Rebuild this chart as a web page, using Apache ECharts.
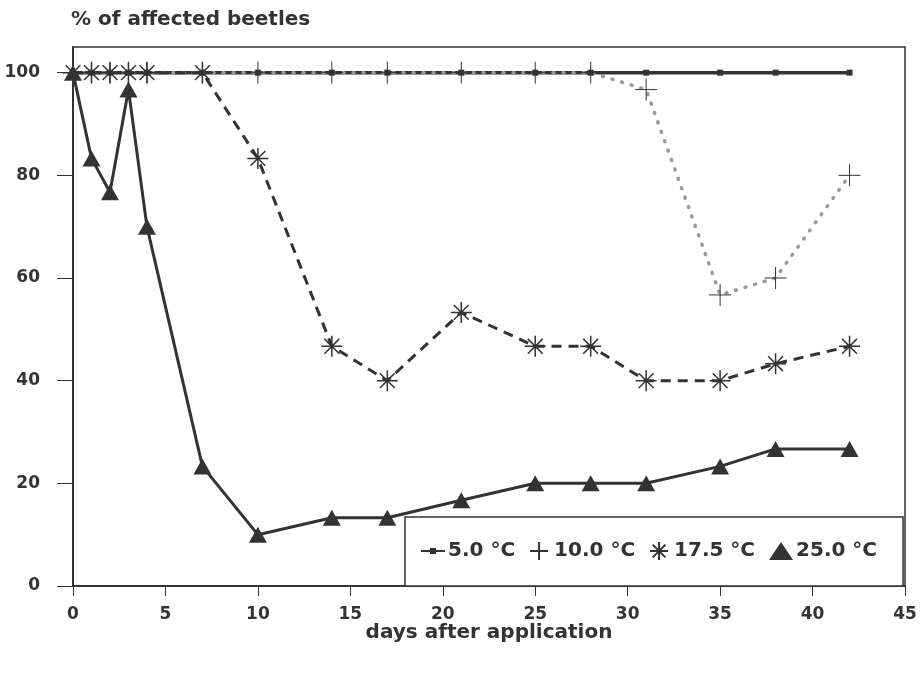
<!DOCTYPE html>
<html>
<head>
<meta charset="utf-8">
<script src="https://cdn.jsdelivr.net/npm/echarts@6/dist/echarts.min.js"></script>
<style>html,body{margin:0;padding:0;background:#fff}#c{width:923px;height:673px}</style>
</head>
<body>
<div id="c"></div>
<script>
var days = [0, 1, 2, 3, 4, 7, 10, 14, 17, 21, 25, 28, 31, 35, 38, 42];
var t5 = [100, 100, 100, 100, 100, 100, 100, 100, 100, 100, 100, 100, 100, 100, 100, 100];
var t10 = [100, 100, 100, 100, 100, 100, 100, 100, 100, 100, 100, 100, 96.7, 56.7, 60, 80];
var t17 = [100, 100, 100, 100, 100, 100, 83.3, 46.7, 40, 53.3, 46.7, 46.7, 40, 40, 43.3, 46.7];
var t25 = [100, 83.3, 76.7, 96.7, 70, 23.3, 10, 13.3, 13.3, 16.7, 20, 20, 20, 23.3, 26.7, 26.7];
var seriesNames = ['5.0 °C', '10.0 °C', '17.5 °C', '25.0 °C'];
var xTicks = [0, 5, 10, 15, 20, 25, 30, 35, 40, 45];
var yTicks = [0, 20, 40, 60, 80, 100];

function pairs(arr) { return days.map(function (d, i) { return [d, arr[i]]; }); }

var PLUS = 'path://M0,-10L0,10M-10,0L10,0';
var STAR = 'path://M0,-10L0,10M-10,0L10,0M-7.07,-7.07L7.07,7.07M-7.07,7.07L7.07,-7.07';
var LINESQ = 'path://M0,9L24,9L24,11L0,11Z M9,7L15,7L15,13L9,13Z';
var INK = '#333';
var FONT = '"DejaVu Sans", Verdana, sans-serif';

var chart = echarts.init(document.getElementById('c'));
chart.setOption({
  animation: false,
  backgroundColor: '#fff',
  title: {
    text: '% of affected beetles', left: 66, top: 5,
    textStyle: { fontFamily: FONT, fontSize: 20, fontWeight: 'bold', color: INK }
  },
  grid: { left: 73, right: 18, top: 47, bottom: 87, show: true, borderColor: INK, borderWidth: 1.5, backgroundColor: 'transparent' },
  xAxis: {
    type: 'value', min: 0, max: 45, interval: 5,
    name: 'days after application', nameLocation: 'middle', nameGap: 37, nameMoveOverlap: false,
    nameTextStyle: { fontFamily: FONT, fontSize: 20, fontWeight: 'bold', color: INK },
    axisLine: { show: true, lineStyle: { color: INK, width: 2 } },
    axisTick: { show: true, inside: false, length: 10, lineStyle: { color: INK, width: 1 } },
    axisLabel: {
      margin: 20, fontFamily: FONT, fontSize: 17, fontWeight: 'bold', color: INK,
      formatter: function (v) { return xTicks.indexOf(v) >= 0 ? String(v) : ''; }
    },
    splitLine: { show: false }
  },
  yAxis: {
    type: 'value', min: 0, max: 105, interval: 20,
    axisLine: { show: true, lineStyle: { color: INK, width: 2 } },
    axisTick: { show: true, inside: false, length: 16, lineStyle: { color: INK, width: 1 } },
    axisLabel: {
      margin: 33, fontFamily: FONT, fontSize: 17, fontWeight: 'bold', color: INK, showMaxLabel: false,
      formatter: function (v) { return yTicks.indexOf(v) >= 0 ? String(v) : ''; }
    },
    splitLine: { show: false }
  },
  legend: {
    left: 405, top: 517, orient: 'horizontal',
    padding: [24, 26, 25, 16], itemGap: 14, itemWidth: 24, itemHeight: 18,
    backgroundColor: '#fff', borderColor: INK, borderWidth: 1.5, borderRadius: 0,
    textStyle: { fontFamily: FONT, fontSize: 20, fontWeight: 'bold', color: INK, padding: [0, 0, 0, -2] },
    data: [
      { name: seriesNames[0], icon: LINESQ },
      { name: seriesNames[1], icon: PLUS },
      { name: seriesNames[2], icon: STAR },
      { name: seriesNames[3], icon: 'triangle' }
    ]
  },
  series: [
    {
      name: seriesNames[0], type: 'line', data: pairs(t5),
      symbol: 'rect', symbolSize: 6,
      lineStyle: { color: INK, width: 3.5 },
      itemStyle: { color: INK }
    },
    {
      name: seriesNames[1], type: 'line', data: pairs(t10),
      symbol: PLUS, symbolSize: 22,
      lineStyle: { color: '#999', width: 3.5, type: [1, 9], cap: 'round' },
      itemStyle: { color: 'transparent', borderColor: INK, borderWidth: 1 }
    },
    {
      name: seriesNames[2], type: 'line', data: pairs(t17),
      symbol: STAR, symbolSize: 21,
      lineStyle: { color: INK, width: 3, type: [10, 7] },
      itemStyle: { color: 'transparent', borderColor: INK, borderWidth: 1.5 }
    },
    {
      name: seriesNames[3], type: 'line', data: pairs(t25),
      symbol: 'triangle', symbolSize: [18, 16],
      lineStyle: { color: INK, width: 3 },
      itemStyle: { color: INK }
    }
  ]
});
</script>
</body>
</html>
